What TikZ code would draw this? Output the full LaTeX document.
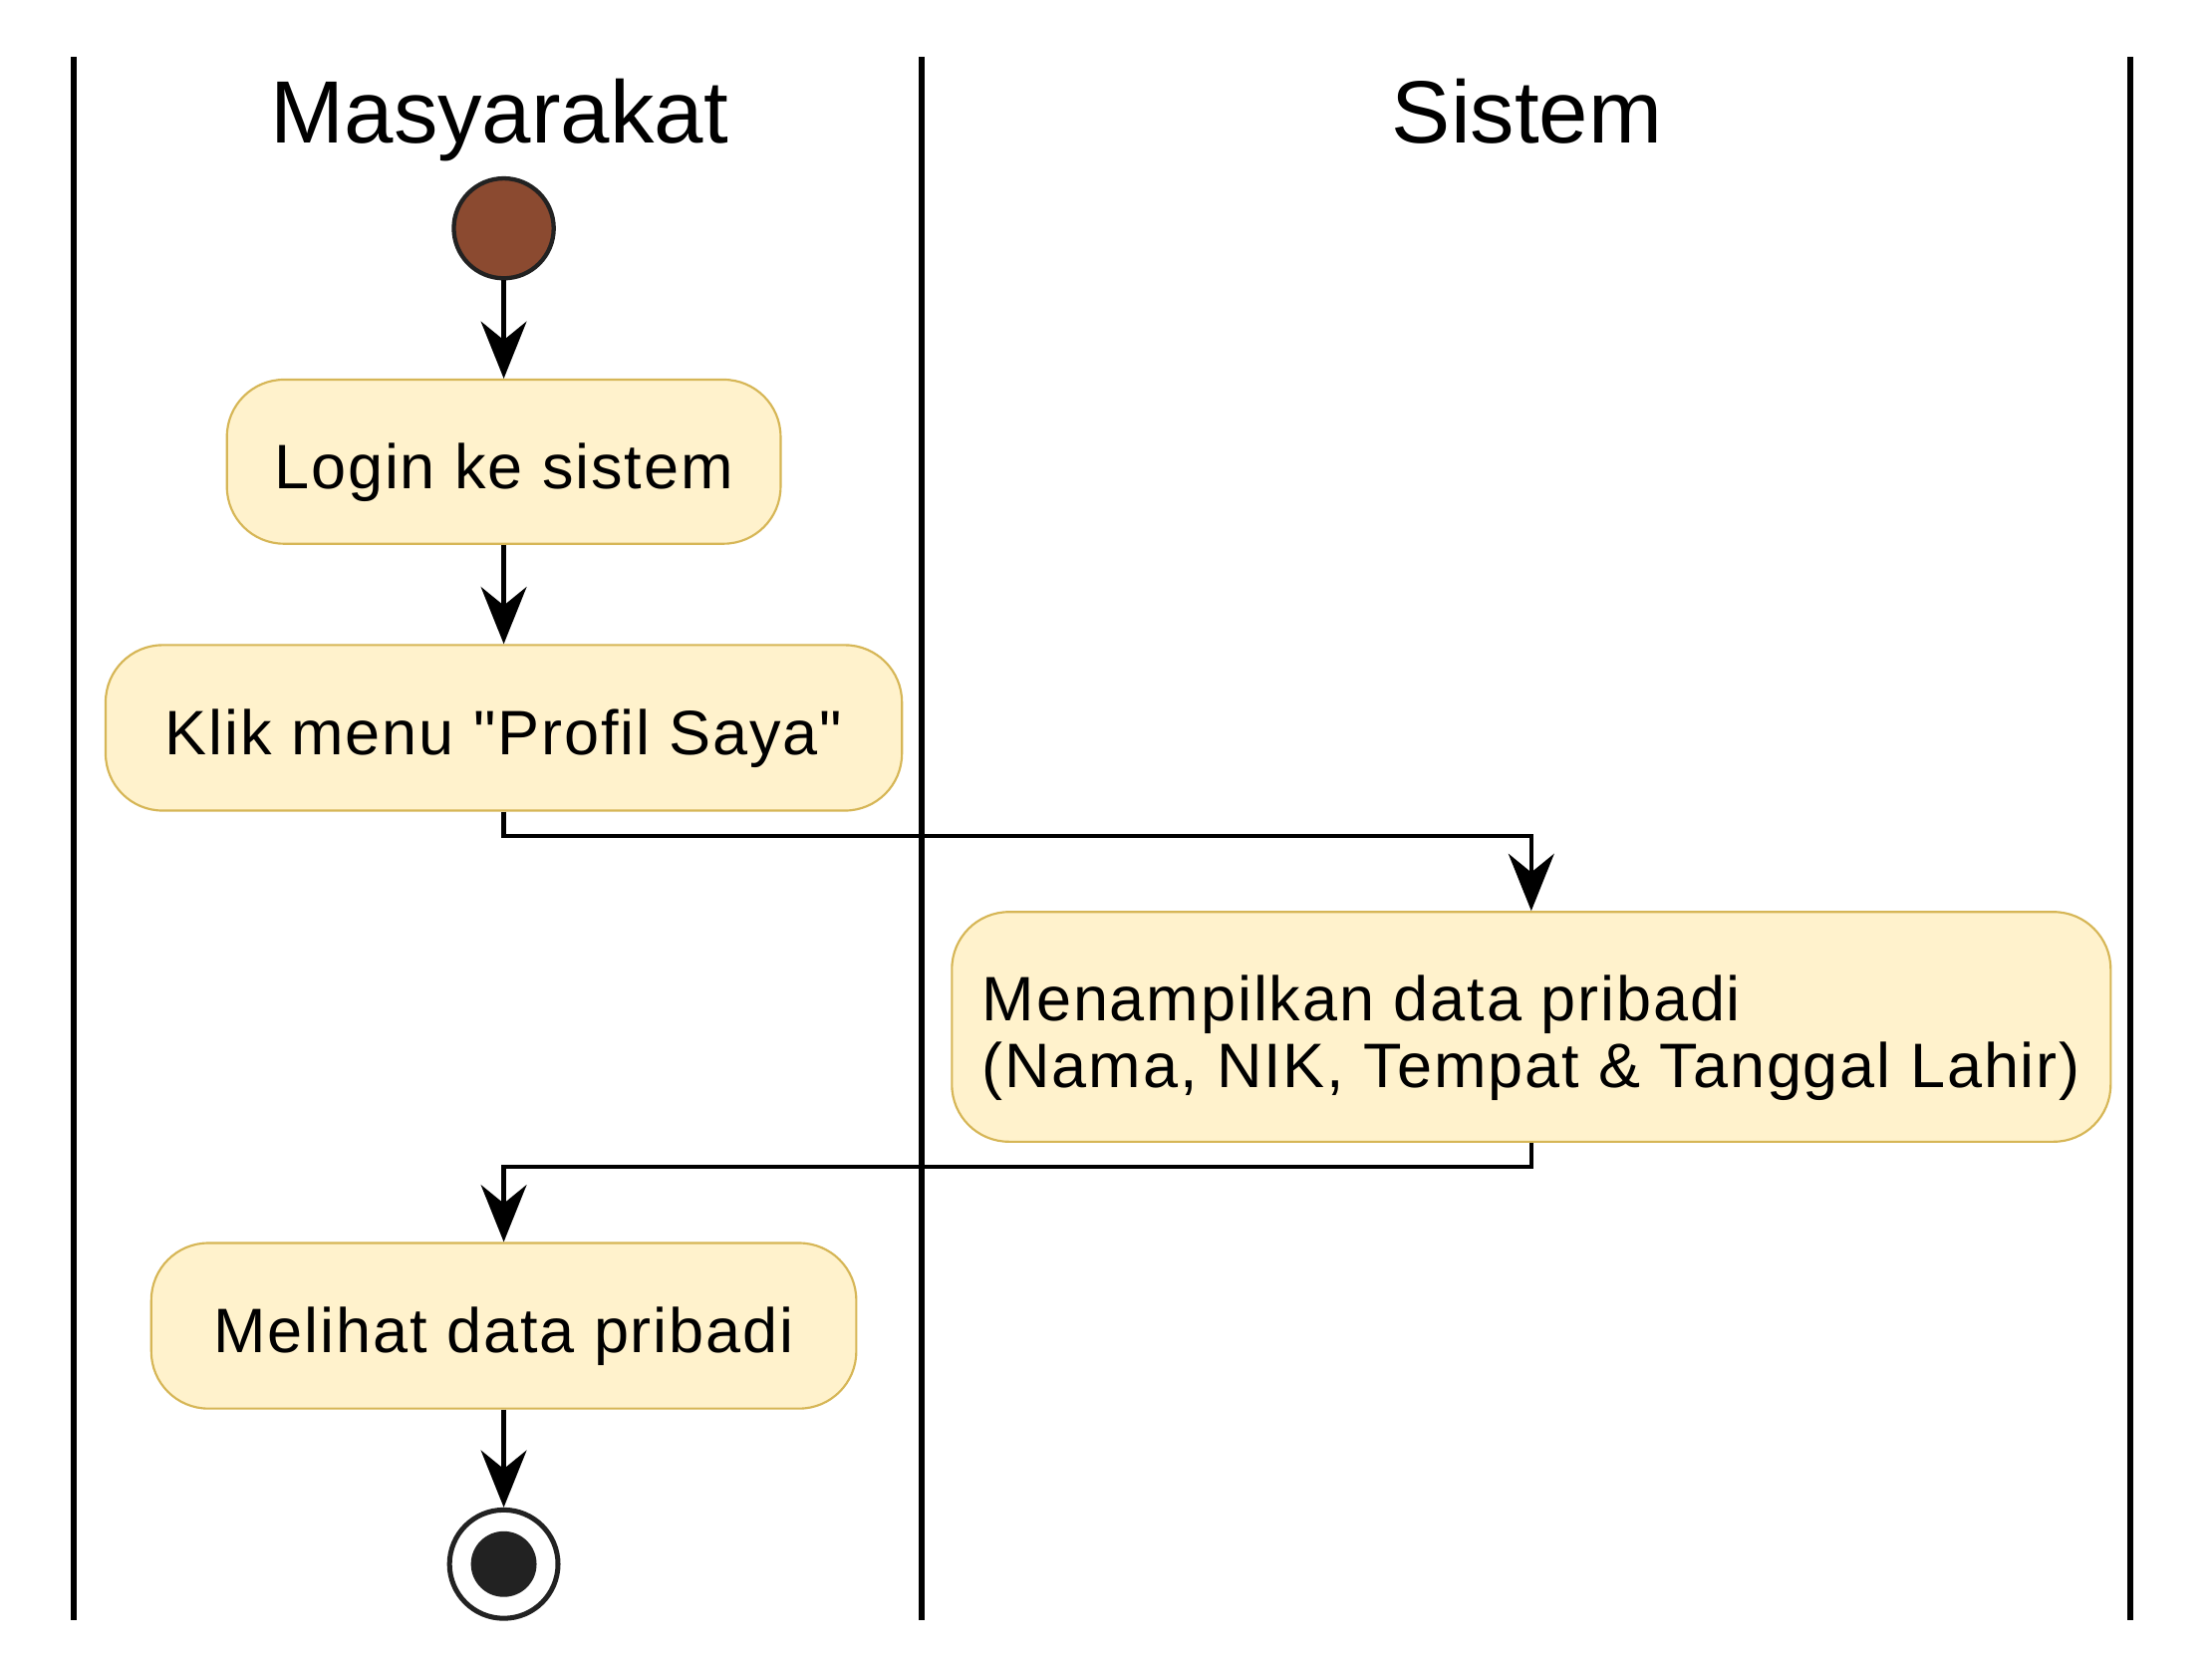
\documentclass[tikz,border=0pt]{standalone}
\usepackage{fontspec}
\setmainfont{Liberation Sans}
\newfontfamily\actfont[LetterSpace=3]{Liberation Sans}
\usepackage{xcolor}
\usepackage{tikz}
\usetikzlibrary{arrows.meta}

\definecolor{actfill}{HTML}{FFF2CC}
\definecolor{actline}{HTML}{D6B656}
\definecolor{startfill}{HTML}{8B4A30}
\definecolor{dark}{HTML}{222222}

\begin{document}
\begin{tikzpicture}[x=1pt, y=-1pt,
	lane/.style={line width=4.2pt},
	header/.style={anchor=base, font=\fontsize{62}{70}\selectfont},
	action/.style={draw=actline, fill=actfill, line width=1.5pt, rounded corners=40pt, inner sep=0pt, text height=38pt, text depth=0pt, font=\actfont\fontsize{44}{47}\selectfont},
	startnode/.style={circle, draw=dark, fill=startfill, line width=3pt, minimum size=70pt, inner sep=0pt},
	endnode/.style={circle, draw=dark, fill=white, line width=3.5pt, minimum size=76pt, inner sep=0pt},
	flow/.style={line width=3pt, -{Stealth[length=40pt, width=32pt, inset=13pt]}}]
	\useasboundingbox (0,0) rectangle (1550,1162.5);
	% swimlanes
	\foreach \x in {52, 646, 1493}
		\draw[lane] (\x,40) -- (\x,1135);
	\node[header] (hmas) at (350,100) {Masyarakat};
	\node[header] (hsis) at (1070,100) {Sistem};
	% activities
	\node[startnode] (start) at (353,160) {};
	\node[action, minimum width=388pt, minimum height=115pt] (login) at (353,323.5) {Login ke sistem};
	\node[action, minimum width=558pt, minimum height=116pt] (klik) at (353,510) {Klik menu "Profil Saya"};
	\node[action, minimum width=812pt, minimum height=161pt, align=left, text height=85pt] (tampil) at (1073,719.5) {Menampilkan data pribadi\\(Nama, NIK, Tempat \& Tanggal Lahir)};
	\node[action, minimum width=494pt, minimum height=116pt] (lihat) at (353,929) {Melihat data pribadi};
	\node[endnode] (fin) at (353,1096) {};
	\fill[dark] (fin.center) circle (23pt);
	% flows
	\draw[flow] (start) -- (login);
	\draw[flow] (login) -- (klik);
	\draw[flow] (klik.south) -- ++(0,17) -| (tampil.north);
	\draw[flow] (tampil.south) -- ++(0,17) -| (lihat.north);
	\draw[flow] (lihat) -- (fin);
\end{tikzpicture}
\end{document}
